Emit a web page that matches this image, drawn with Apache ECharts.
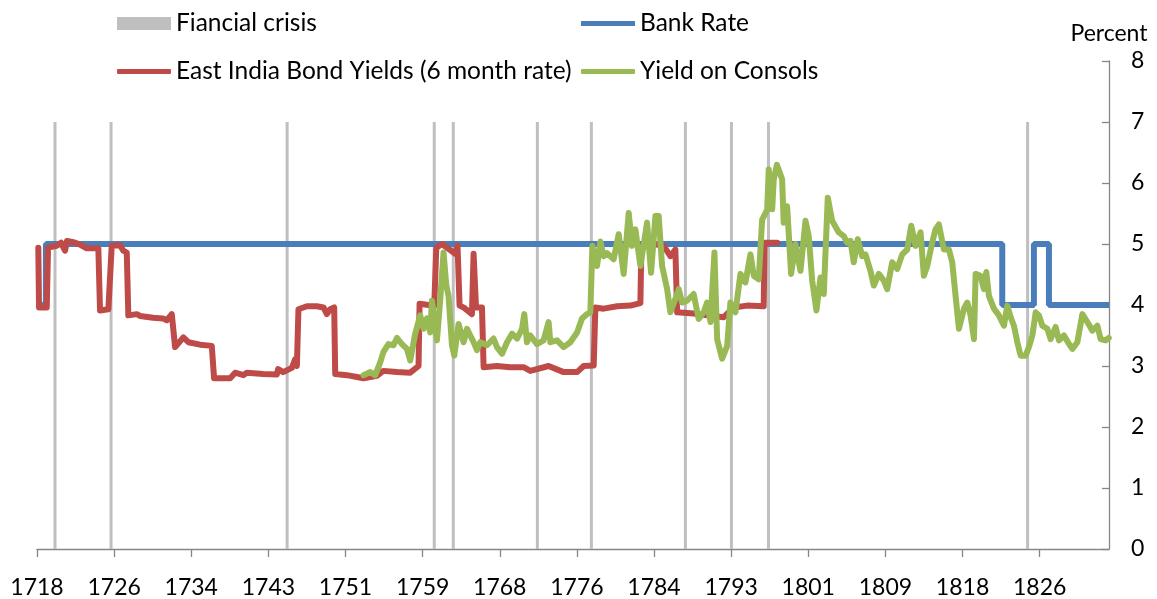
<!DOCTYPE html>
<html><head><meta charset="utf-8">
<script src="https://cdn.jsdelivr.net/npm/echarts@6/dist/echarts.min.js"></script>
<style>html,body{margin:0;padding:0;background:#fff}#c{width:1157px;height:599px}</style>
</head><body><div id="c"></div>
<script>
const START_YEAR = 1718;
const END_YEAR = 1833.5;
const TICK_STEP = 8.31;
const TICK_LABELS = ['1718','1726','1734','1743','1751','1759','1768','1776','1784','1793','1801','1809','1818','1826'];
const CRISIS_YEARS = [1719.94,1725.98,1744.95,1760.80,1762.85,1771.91,1777.73,1787.86,1792.82,1796.81,1824.73];
const CRISIS_HEIGHT = 7;
const BANK_RATE = [[1718.0,4],[1718.96,4],[1718.96,5],[1822.0,5],[1822.0,4],[1825.41,4],[1825.41,5],[1827.03,5],[1827.03,4],[1833.5,4]];
const EAST_INDIA = [[1718.14,4.94],[1718.22,3.96],[1719.05,3.96],[1719.19,4.94],[1720.12,4.97],[1720.59,5.02],[1720.80,5.05],[1721.02,4.89],[1721.23,5.05],[1721.91,5.03],[1722.64,4.99],[1723.36,4.93],[1724.61,4.93],[1724.79,3.91],[1725.69,3.93],[1726.05,4.97],[1726.95,4.98],[1727.30,4.89],[1727.67,4.86],[1727.84,3.83],[1728.75,3.85],[1729.10,3.82],[1730.51,3.79],[1731.58,3.78],[1731.98,3.75],[1732.52,3.85],[1732.88,3.31],[1733.77,3.47],[1734.31,3.39],[1735.57,3.35],[1736.83,3.33],[1737.08,2.80],[1738.81,2.80],[1739.35,2.89],[1740.24,2.85],[1740.61,2.89],[1742.37,2.87],[1743.84,2.86],[1743.98,2.95],[1744.52,2.90],[1745.46,2.97],[1745.81,3.11],[1746.00,3.00],[1746.17,3.93],[1747.08,3.98],[1748.15,3.98],[1748.87,3.96],[1749.23,3.85],[1749.59,3.93],[1750.02,3.96],[1750.13,2.87],[1751.39,2.85],[1752.47,2.82],[1753.18,2.80],[1754.62,2.84],[1755.30,2.92],[1756.78,2.90],[1758.21,2.89],[1759.11,3.00],[1759.22,4.02],[1760.19,4.00],[1760.80,3.98],[1761.02,4.94],[1761.63,5.00],[1762.34,4.92],[1763.06,4.84],[1763.31,4.97],[1763.53,3.99],[1763.96,3.96],[1764.86,3.85],[1765.04,4.84],[1765.30,3.96],[1765.94,3.96],[1766.12,2.98],[1767.56,3.00],[1768.99,2.98],[1770.43,2.98],[1771.15,2.92],[1773.12,3.00],[1774.74,2.90],[1776.19,2.90],[1776.90,3.00],[1777.98,3.01],[1778.16,3.96],[1779.05,3.94],[1780.50,3.98],[1781.93,3.99],[1783.01,4.03],[1783.12,4.97],[1783.73,5.02],[1785.52,4.97],[1786.24,4.80],[1786.78,4.91],[1786.97,3.88],[1788.75,3.86],[1790.20,3.83],[1791.99,3.80],[1793.07,3.96],[1794.51,3.99],[1796.30,3.98],[1796.38,5.02],[1797.75,5.02]];
const CONSOLS = [[1753.18,2.85],[1753.90,2.90],[1754.44,2.85],[1754.98,3.06],[1755.33,3.23],[1755.87,3.36],[1756.41,3.34],[1756.78,3.46],[1757.32,3.36],[1757.86,3.28],[1758.21,3.09],[1758.75,3.53],[1759.29,3.83],[1759.65,3.61],[1760.01,3.78],[1760.37,3.55],[1760.55,4.07],[1761.09,3.42],[1761.45,4.10],[1761.80,4.86],[1762.10,4.32],[1762.34,4.15],[1762.71,3.34],[1762.96,3.17],[1763.42,3.69],[1763.96,3.39],[1764.33,3.61],[1764.68,3.50],[1765.04,3.39],[1765.40,3.26],[1765.76,3.39],[1766.48,3.34],[1767.19,3.45],[1767.56,3.31],[1768.10,3.20],[1768.64,3.39],[1769.18,3.53],[1769.72,3.45],[1770.26,3.61],[1770.50,3.85],[1770.79,3.39],[1771.15,3.50],[1771.87,3.36],[1772.58,3.42],[1773.12,3.72],[1773.31,3.39],[1774.03,3.42],[1774.74,3.31],[1775.46,3.39],[1776.19,3.55],[1776.72,3.78],[1777.26,3.85],[1777.62,3.88],[1777.84,4.97],[1778.34,4.64],[1778.70,5.04],[1779.05,4.80],[1779.42,4.85],[1780.13,4.75],[1780.67,5.16],[1781.21,4.51],[1781.75,5.51],[1782.11,4.97],[1782.47,5.24],[1783.01,4.64],[1783.73,5.35],[1784.16,4.53],[1784.63,5.46],[1784.98,5.46],[1785.35,4.64],[1785.89,4.26],[1786.24,3.88],[1786.78,4.10],[1787.14,4.26],[1787.50,4.04],[1788.04,4.07],[1788.75,4.18],[1789.29,3.77],[1789.83,3.88],[1790.20,4.04],[1790.56,3.72],[1790.99,4.86],[1791.28,3.44],[1791.82,3.12],[1792.36,3.33],[1792.71,4.04],[1793.25,3.88],[1793.79,4.51],[1794.33,4.37],[1794.87,4.83],[1795.23,4.48],[1795.76,4.42],[1796.13,5.40],[1796.67,5.56],[1796.84,6.22],[1797.21,5.57],[1797.38,6.06],[1797.72,6.30],[1798.28,6.06],[1798.45,5.35],[1798.82,5.62],[1799.25,4.51],[1799.72,5.00],[1800.26,4.56],[1800.80,5.38],[1801.15,5.13],[1801.52,4.40],[1801.98,3.91],[1802.41,4.45],[1802.77,4.18],[1803.20,5.76],[1803.67,5.38],[1804.39,5.19],[1804.93,5.13],[1805.29,5.02],[1805.65,5.05],[1806.00,4.70],[1806.43,5.08],[1806.91,4.80],[1807.26,4.83],[1807.80,4.56],[1808.16,4.32],[1808.70,4.51],[1809.24,4.40],[1809.60,4.26],[1810.14,4.70],[1810.68,4.59],[1811.22,4.83],[1811.76,4.91],[1812.19,5.30],[1812.66,4.97],[1813.20,5.19],[1813.55,4.48],[1813.92,4.64],[1814.46,5.03],[1814.81,5.24],[1815.17,5.32],[1815.71,4.91],[1816.25,4.91],[1816.61,4.70],[1816.97,4.15],[1817.33,3.61],[1817.87,3.94],[1818.23,4.04],[1818.59,3.83],[1818.95,3.44],[1819.13,4.51],[1819.66,4.48],[1820.02,4.26],[1820.28,4.54],[1820.56,4.15],[1821.10,3.94],[1821.64,3.83],[1822.18,3.66],[1822.54,3.99],[1822.90,3.80],[1823.26,3.66],[1823.62,3.39],[1823.98,3.17],[1824.52,3.17],[1824.87,3.31],[1825.24,3.50],[1825.60,3.88],[1825.95,3.83],[1826.32,3.66],[1826.86,3.61],[1827.21,3.44],[1827.75,3.64],[1828.11,3.42],[1828.65,3.50],[1829.19,3.36],[1829.55,3.28],[1830.09,3.39],[1830.63,3.85],[1831.17,3.72],[1831.71,3.58],[1832.25,3.66],[1832.60,3.44],[1833.14,3.42],[1833.47,3.46]];

const FONT = 'Lato';
const FS_LEGEND = 24.5;
const FS_AXIS = 23;
const tickValues = TICK_LABELS.map((_, i) => START_YEAR + i * TICK_STEP);
const legendText = {fontFamily: FONT, fontSize: FS_LEGEND, color: '#000'};
function legend(name, left, top, icon, h) {
  return {data: [name], left: left, top: top, icon: icon, itemWidth: 54, itemHeight: h,
    padding: 0, itemGap: 0, textStyle: legendText, selectedMode: false};
}
const chart = echarts.init(document.getElementById('c'), null, {renderer: 'canvas'});
chart.setOption({
  animation: false,
  backgroundColor: '#fff',
  legend: [
    legend('Fiancial crisis', 117, 11, 'rect', 13),
    legend('Bank Rate', 581, 11, 'rect', 5),
    legend('East India Bond Yields (6 month rate)', 117, 59, 'roundRect', 5),
    legend('Yield on Consols', 581, 59, 'roundRect', 5)
  ],
  grid: {left: 37, right: 48, top: 61, bottom: 47, containLabel: false},
  xAxis: {
    type: 'value', min: START_YEAR, max: END_YEAR,
    splitLine: {show: false},
    axisLine: {lineStyle: {color: '#868686', width: 1.3}},
    axisTick: {show: true, length: 8, inside: false, customValues: tickValues, lineStyle: {color: '#868686', width: 1.3}},
    axisLabel: {customValues: tickValues, margin: 27, fontFamily: FONT, fontSize: FS_AXIS, color: '#000',
      formatter: v => TICK_LABELS[Math.round((v - START_YEAR) / TICK_STEP)] || ''}
  },
  yAxis: {
    type: 'value', position: 'right', min: 0, max: 8, interval: 1,
    name: 'Percent', nameLocation: 'end', nameGap: 16,
    nameTextStyle: {fontFamily: FONT, fontSize: FS_AXIS, color: '#000', align: 'center'},
    splitLine: {show: false},
    axisLine: {show: true, lineStyle: {color: '#868686', width: 1.3}},
    axisTick: {show: true, inside: true, length: 7, lineStyle: {color: '#868686', width: 1.3}},
    axisLabel: {margin: 22, fontFamily: FONT, fontSize: FS_AXIS, color: '#000'}
  },
  series: [
    {name: 'Fiancial crisis', type: 'bar', barWidth: 3, z: 1,
      itemStyle: {color: '#bfbfbf'},
      data: CRISIS_YEARS.map(y => [y, CRISIS_HEIGHT])},
    {name: 'Bank Rate', type: 'line', showSymbol: false, z: 2,
      itemStyle: {color: '#4a7ebb'}, lineStyle: {color: '#4a7ebb', width: 6},
      data: BANK_RATE},
    {name: 'East India Bond Yields (6 month rate)', type: 'line', showSymbol: false, z: 3,
      itemStyle: {color: '#be4b48'}, lineStyle: {color: '#be4b48', width: 6, join: 'round', cap: 'round'},
      data: EAST_INDIA},
    {name: 'Yield on Consols', type: 'line', showSymbol: false, z: 4,
      itemStyle: {color: '#98b954'}, lineStyle: {color: '#98b954', width: 6, join: 'round', cap: 'round'},
      data: CONSOLS}
  ]
});
</script></body></html>
